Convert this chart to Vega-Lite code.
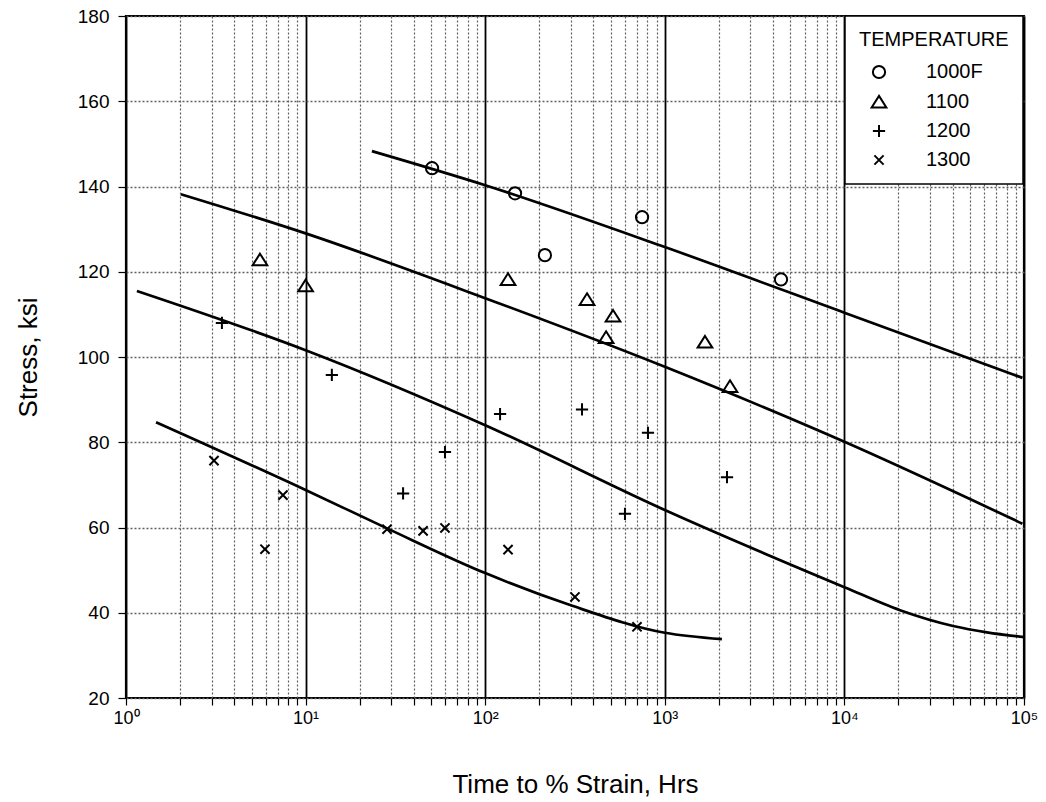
{
  "$schema": "https://vega.github.io/schema/vega-lite/v6.json",
  "width": 898,
  "height": 682,
  "autosize": {"type": "none"},
  "padding": {"left": 126, "top": 16, "right": 22, "bottom": 104},
  "background": "white",
  "datasets": {
    "points": [
      {"temp": "1000F", "hours": 50.6, "stress": 144.3},
      {"temp": "1000F", "hours": 146.6, "stress": 138.4},
      {"temp": "1000F", "hours": 215, "stress": 123.9},
      {"temp": "1000F", "hours": 747, "stress": 132.8},
      {"temp": "1000F", "hours": 4436, "stress": 118.2},
      {"temp": "1100", "hours": 5.57, "stress": 122.8},
      {"temp": "1100", "hours": 10, "stress": 116.7},
      {"temp": "1100", "hours": 134, "stress": 118.2},
      {"temp": "1100", "hours": 369, "stress": 113.5},
      {"temp": "1100", "hours": 515, "stress": 109.6},
      {"temp": "1100", "hours": 471, "stress": 104.6},
      {"temp": "1100", "hours": 1674, "stress": 103.5},
      {"temp": "1100", "hours": 2307, "stress": 93.1},
      {"temp": "1200", "hours": 3.42, "stress": 108.0},
      {"temp": "1200", "hours": 14.0, "stress": 95.8},
      {"temp": "1200", "hours": 34.9, "stress": 68.0},
      {"temp": "1200", "hours": 59.7, "stress": 77.7},
      {"temp": "1200", "hours": 121, "stress": 86.6},
      {"temp": "1200", "hours": 346, "stress": 87.7},
      {"temp": "1200", "hours": 600, "stress": 63.2},
      {"temp": "1200", "hours": 806, "stress": 82.2},
      {"temp": "1200", "hours": 2220, "stress": 71.8},
      {"temp": "1300", "hours": 3.09, "stress": 75.7},
      {"temp": "1300", "hours": 5.94, "stress": 54.9},
      {"temp": "1300", "hours": 7.48, "stress": 67.6},
      {"temp": "1300", "hours": 28.4, "stress": 59.6},
      {"temp": "1300", "hours": 45.1, "stress": 59.2},
      {"temp": "1300", "hours": 59.7, "stress": 59.9},
      {"temp": "1300", "hours": 134, "stress": 54.8},
      {"temp": "1300", "hours": 316, "stress": 43.7},
      {"temp": "1300", "hours": 700, "stress": 36.7}
    ],
    "curves": [
      {"curve": "1000F", "hours": 23.4, "stress": 148.3},
      {"curve": "1000F", "hours": 100, "stress": 140.3},
      {"curve": "1000F", "hours": 1000, "stress": 125.8},
      {"curve": "1000F", "hours": 10000, "stress": 110.4},
      {"curve": "1000F", "hours": 98000, "stress": 95.1},
      {"curve": "1100", "hours": 2.02, "stress": 138.2},
      {"curve": "1100", "hours": 10, "stress": 129.0},
      {"curve": "1100", "hours": 100, "stress": 113.8},
      {"curve": "1100", "hours": 1000, "stress": 97.7},
      {"curve": "1100", "hours": 10000, "stress": 80.1},
      {"curve": "1100", "hours": 98000, "stress": 60.9},
      {"curve": "1200", "hours": 1.15, "stress": 115.5},
      {"curve": "1200", "hours": 10, "stress": 101.6},
      {"curve": "1200", "hours": 100, "stress": 84.0},
      {"curve": "1200", "hours": 1000, "stress": 64.1},
      {"curve": "1200", "hours": 10000, "stress": 46.0},
      {"curve": "1200", "hours": 20400, "stress": 40.6},
      {"curve": "1200", "hours": 40300, "stress": 36.9},
      {"curve": "1200", "hours": 62200, "stress": 35.4},
      {"curve": "1200", "hours": 100000, "stress": 34.3},
      {"curve": "1300", "hours": 1.47, "stress": 84.7},
      {"curve": "1300", "hours": 10, "stress": 68.8},
      {"curve": "1300", "hours": 28.4, "stress": 59.8},
      {"curve": "1300", "hours": 100, "stress": 49.3},
      {"curve": "1300", "hours": 297, "stress": 41.8},
      {"curve": "1300", "hours": 1000, "stress": 35.3},
      {"curve": "1300", "hours": 2080, "stress": 33.8}
    ]
  },
  "layer": [
    {
      "data": {"name": "curves"},
      "mark": {"type": "line", "color": "black", "strokeWidth": 2.7, "interpolate": "monotone", "clip": true},
      "encoding": {
        "x": {
          "field": "hours", "type": "quantitative",
          "scale": {"type": "log", "domain": [1, 100000], "nice": false},
          "axis": {
            "title": "Time to % Strain, Hrs",
            "values": [1,2,3,4,5,6,7,8,9,10,20,30,40,50,60,70,80,90,100,200,300,400,500,600,700,800,900,1000,2000,3000,4000,5000,6000,7000,8000,9000,10000,20000,30000,40000,50000,60000,70000,80000,90000,100000],
            "labelExpr": "indexof([1,10,100,1000,10000,100000], datum.value) >= 0 ? '10' + ['⁰','¹','²','³','⁴','⁵'][round(log(datum.value)/LN10)] : ''",
            "labelOverlap": false,
            "labelFlush": false,
            "labelFontSize": 18,
            "labelPadding": 4,
            "tickSize": 7,
            "titleFontSize": 26,
            "titlePadding": 44,
            "gridColor": {"condition": {"test": "indexof([1,10,100,1000,10000,100000], datum.value) >= 0", "value": "black"}, "value": "#606060"},
            "gridDash": {"condition": {"test": "indexof([1,10,100,1000,10000,100000], datum.value) >= 0", "value": []}, "value": [2, 2]},
            "gridWidth": {"condition": {"test": "indexof([1,10,100,1000,10000,100000], datum.value) >= 0", "value": 1.8}, "value": 1.2}
          }
        },
        "y": {
          "field": "stress", "type": "quantitative",
          "scale": {"domain": [20, 180], "nice": false, "zero": false},
          "axis": {
            "title": "Stress, ksi",
            "values": [20, 40, 60, 80, 100, 120, 140, 160, 180],
            "labelFontSize": 19,
            "labelPadding": 9,
            "tickSize": 8,
            "titleFontSize": 26,
            "titlePadding": 36,
            "gridColor": "#606060",
            "gridDash": [2, 2],
            "gridWidth": 1.4
          }
        },
        "detail": {"field": "curve"}
      }
    },
    {
      "data": {"name": "points"},
      "mark": {"type": "point", "filled": false, "stroke": "black", "strokeWidth": 2, "opacity": 1},
      "encoding": {
        "x": {"field": "hours", "type": "quantitative"},
        "y": {"field": "stress", "type": "quantitative"},
        "shape": {
          "field": "temp", "type": "nominal",
          "scale": {
            "domain": ["1000F", "1100", "1200", "1300"],
            "range": ["circle", "M0,-1L1.2,0.9L-1.2,0.9Z", "M-1,0L1,0M0,-1L0,1", "M-0.75,-0.75L0.75,0.75M-0.75,0.75L0.75,-0.75"]
          },
          "legend": {
            "title": "TEMPERATURE",
            "orient": "none",
            "legendX": 719,
            "legendY": 0,
            "padding": 14,
            "fillColor": "white",
            "strokeColor": "black",
            "titleFontSize": 20,
            "titleFontWeight": "normal",
            "titlePadding": 12,
            "labelFontSize": 20,
            "labelOffset": 37,
            "symbolOffset": 10,
            "rowPadding": 8,
            "symbolStrokeColor": "black",
            "symbolStrokeWidth": 2,
            "symbolSize": 150,
            "symbolFillColor": "transparent"
          }
        },
        "size": {"value": 150}
      }
    }
  ],
  "config": {
    "font": "Liberation Sans",
    "view": {"stroke": "black", "strokeWidth": 2.2},
    "axis": {
      "domain": false,
      "labelColor": "black",
      "titleColor": "black",
      "titleFontWeight": "normal",
      "tickColor": "black",
      "tickWidth": 1.2,
      "grid": true
    },
    "legend": {"labelColor": "black", "titleColor": "black", "strokeWidth": 1.5, "labelFont": "Liberation Sans", "titleFont": "Liberation Sans"}
  }
}
